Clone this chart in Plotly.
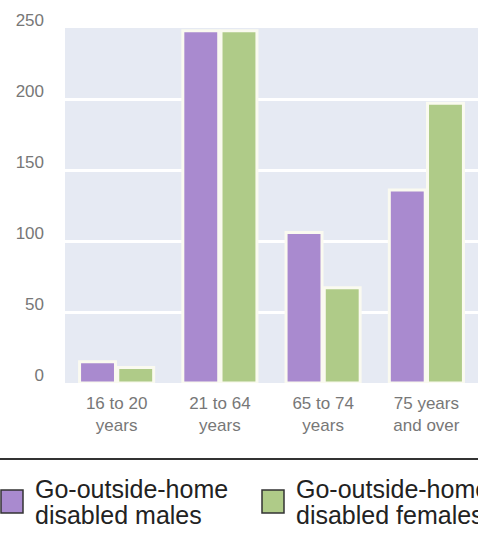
import plotly.graph_objects as go

# Age groups and counts of disabled people who go outside the home
categories = ["16 to 20<br>years", "21 to 64<br>years", "65 to 74<br>years", "75 years<br>and over"]
males = [15, 248, 106, 136]
females = [11, 248, 67, 197]
series_names = ["Go-outside-home disabled males", "Go-outside-home disabled females"]
legend_lines = [["Go-outside-home", "disabled males"], ["Go-outside-home", "disabled females"]]
y_ticks = [0, 50, 100, 150, 200, 250]

PURPLE = "#A98ACF"
GREEN = "#AFCB88"

W, H = 478, 537
L, T, R, B = 65, 28, 0, 154
PW, PH = W - L - R, H - T - B


def px_x(px):
    return (px - L) / PW


def px_y(py):
    return (H - B - py) / PH


fig = go.Figure()
for name, vals, col in [(series_names[0], males, PURPLE), (series_names[1], females, GREEN)]:
    fig.add_trace(go.Bar(
        x=categories, y=vals, name=name,
        marker=dict(color=col, line=dict(color="#FAFAF0", width=3)),
        showlegend=False,
    ))

shapes = [dict(type="line", xref="paper", yref="paper",
               x0=px_x(0), x1=px_x(W), y0=px_y(459), y1=px_y(459),
               line=dict(color="#333333", width=2))]
annotations = []
for i, (col, lines) in enumerate(zip([PURPLE, GREEN], legend_lines)):
    x0 = [1, 262][i]
    shapes.append(dict(type="rect", xref="paper", yref="paper",
                       x0=px_x(x0), x1=px_x(x0 + 22), y0=px_y(513), y1=px_y(490),
                       fillcolor=col, line=dict(color="#333333", width=1.5)))
    for j, txt in enumerate(lines):
        annotations.append(dict(
            text=txt, xref="paper", yref="paper", showarrow=False,
            x=px_x(x0 + 32), xanchor="left",
            y=px_y([489, 515][j]), yanchor="middle",
            font=dict(family="Liberation Sans, Arial", size=25, color="#222222"),
        ))

fig.update_layout(
    width=W, height=H, autosize=False,
    margin=dict(l=L, r=R, t=T, b=B, pad=0),
    paper_bgcolor="white", plot_bgcolor="#E6EAF3",
    barmode="group", bargap=0.26, bargroupgap=0.06,
    shapes=shapes, annotations=annotations,
    xaxis=dict(showgrid=False, ticks="", ticklabelstandoff=8,
               tickfont=dict(family="Liberation Sans, Arial", size=17, color="#777777"),
               range=[-0.5, 3.5]),
    yaxis=dict(range=[0, 250], tickvals=y_ticks, showgrid=True, gridcolor="white",
               gridwidth=3, zeroline=False, ticks="", ticklabelshift=-8,
               ticklabelstandoff=20,
               tickfont=dict(family="Liberation Sans, Arial", size=17, color="#777777")),
)

fig.write_html("out.html")
